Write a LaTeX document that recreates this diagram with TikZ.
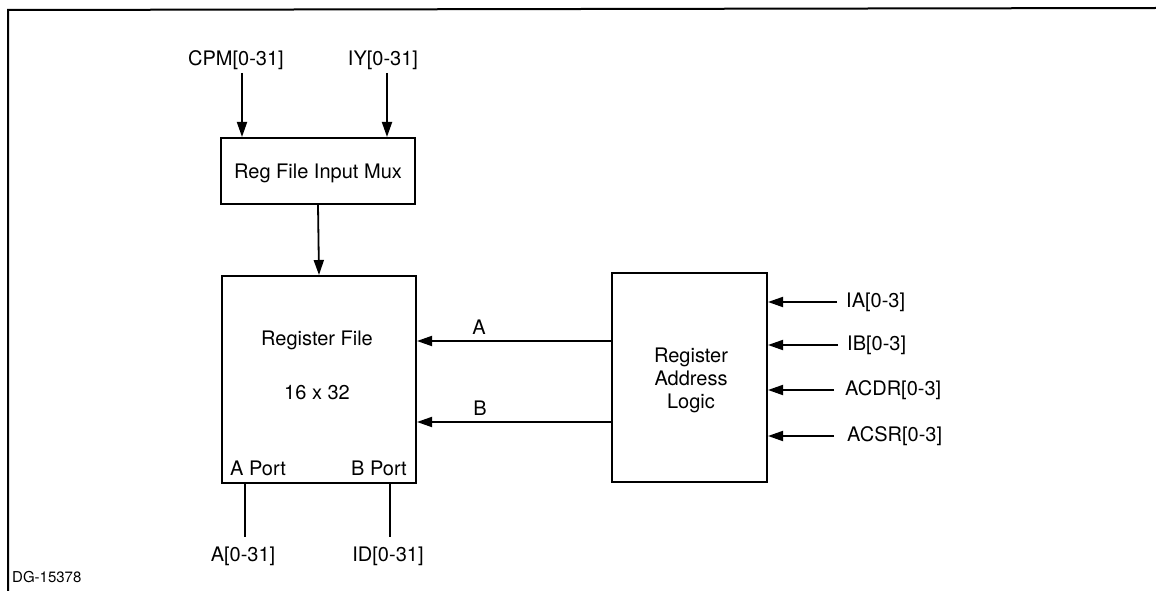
\documentclass[tikz,border=0pt]{standalone}
\usepackage{fontspec}
\setmainfont{TeX Gyre Heros}
\usetikzlibrary{arrows.meta}
\begin{document}
\begin{tikzpicture}[x=1pt,y=-1pt,
  box/.style={draw,line width=2pt,minimum width=#1},
  lbl/.style={font=\fontsize{20}{22}\selectfont,inner sep=0pt},
  arr/.style={line width=1.8pt,-{Triangle[length=15pt,width=10pt]}},
  wire/.style={line width=1.8pt}]
\useasboundingbox (0,0) rectangle (1156,591);
\fill[white] (0,0) rectangle (1156,591);
% frame
\draw[line width=2pt] (1156,8) -- (8,10) -- (8,591);
% boxes
\node[box=194pt,minimum height=66pt] (mux) at (318,171) {};
\node[lbl] at (318,173) {Reg File Input Mux};
\node[box=194pt,minimum height=207pt] (rf) at (319,379.5) {};
\node[box=155pt,minimum height=209pt] (ral) at (689.5,377.5) {};
% register file texts
\node[lbl] (rft) at (317,340) {Register File};
\node[lbl] (rfs) at (317,393) {16 x 32};
\node[lbl,anchor=west] (ap) at (230,468) {A Port};
\node[lbl,anchor=east] (bp) at (407,468) {B Port};
\node[lbl,align=center] (ralt) at (691,380) {Register\\[1pt]Address\\[1pt]Logic};
% top inputs
\node[lbl] (cpm) at (236,60) {CPM[0-31]};
\node[lbl] (iy) at (383,60) {IY[0-31]};
\coordinate (c1) at (242,73);
\coordinate (c2) at (387,73);
\draw[arr] (c1) -- (c1 |- mux.north);
\draw[arr] (c2) -- (c2 |- mux.north);
\draw[arr] (mux.south) -- (rf.north);
% A / B address buses
\coordinate (pa) at (ral.west |- 0,341);
\coordinate (pb) at (ral.west |- 0,422);
\draw[arr] (pa) -- (pa -| rf.east);
\draw[arr] (pb) -- (pb -| rf.east);
\node[lbl] (la) at (479,327) {A};
\node[lbl] (lb) at (480,408) {B};
% right inputs
\node[lbl,anchor=west] (ia) at (846,302) {IA[0-3]};
\node[lbl,anchor=west] (ib) at (847,345) {IB[0-3]};
\node[lbl,anchor=west] (acdr) at (845,390) {ACDR[0-3]};
\node[lbl,anchor=west] (acsr) at (847,436) {ACSR[0-3]};
\draw[arr] (837,302) -- (ral.east |- 0,302);
\draw[arr] (838,345) -- (ral.east |- 0,345);
\draw[arr] (834,390) -- (ral.east |- 0,390);
\draw[arr] (834,436) -- (ral.east |- 0,436);
% outputs
\node[lbl] (oa) at (243,556) {A[0-31]};
\node[lbl] (oid) at (388,556) {ID[0-31]};
\draw[wire] (245,483) -- (245,537);
\draw[wire] (390,483) -- (390,537);
\node[font=\fontsize{15}{16}\selectfont,inner sep=0pt,anchor=west] (dg) at (12,577) {DG-15378};
\end{tikzpicture}
\end{document}
